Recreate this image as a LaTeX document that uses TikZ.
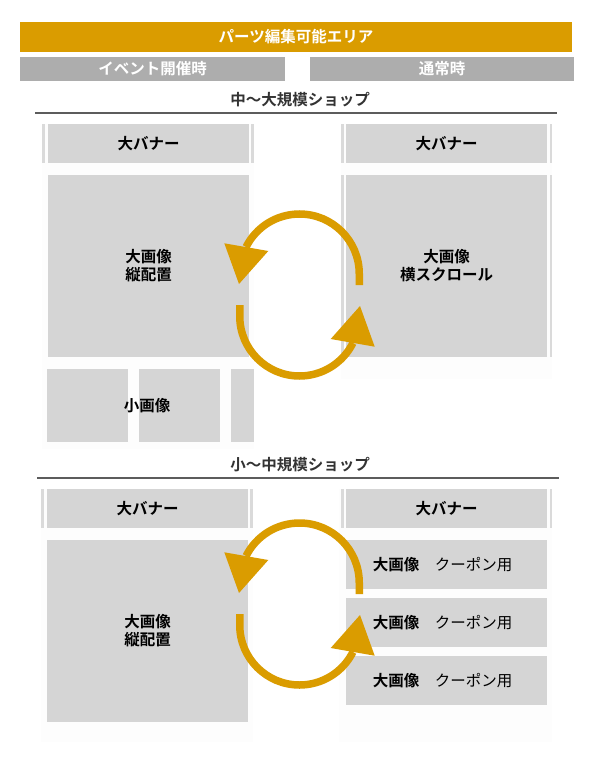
\documentclass[tikz,border=0pt]{standalone}
\usepackage{fontspec}
\setmainfont{Noto Sans CJK JP}[BoldFont={Noto Sans CJK JP Bold}]
\definecolor{partsorange}{RGB}{218,156,0}
\definecolor{bargray}{RGB}{173,173,173}
\definecolor{boxgray}{RGB}{213,213,213}
\definecolor{stripgray}{RGB}{218,218,218}
\definecolor{colbg}{RGB}{253,253,253}
\definecolor{headgray}{RGB}{51,51,51}
\newcommand{\diagfont}{\fontsize{15.5pt}{18pt}\selectfont}
\tikzset{
  box/.style={fill=boxgray, inner sep=0pt, font=\diagfont\bfseries, align=center},
  bar/.style={inner sep=0pt, text=white, font=\diagfont\bfseries},
  heading/.style={inner sep=0pt, text=headgray, font=\diagfont\bfseries},
  strip/.style={fill=stripgray},
  cyc/.style={draw=partsorange, line width=7.5pt},
}
\begin{document}
\begin{tikzpicture}[x=1pt,y=-1pt]
\useasboundingbox[fill=white] (0,0) rectangle (600,759);

\node[bar, fill=partsorange, minimum width=552pt, minimum height=30pt] (parts) at (296,37) {パーツ編集可能エリア};
\node[bar, fill=bargray, minimum width=265pt, minimum height=24pt] (event) at (152.5,69) {イベント開催時};
\node[bar, fill=bargray, minimum width=264pt, minimum height=24pt] (normal) at (442,69) {通常時};

\node[heading] (headA) at (300,100) {中〜大規模ショップ};
\draw[headgray!80, line width=1.5pt] (35,113) -- (557,113);
\node[heading] (headB) at (300,465) {小〜中規模ショップ};
\draw[headgray!80, line width=1.5pt] (37,478) -- (559,478);

\fill[colbg] (42,124) rectangle (254,449);
\fill[colbg] (341,124) rectangle (552,379);
\fill[colbg] (41,489) rectangle (253,742);
\fill[colbg] (339,489) rectangle (552,742);

\foreach \ya/\yb in {124/163,175/357,489/528} {
  \fill[strip] (341,\ya) rectangle (343.5,\yb);
  \fill[strip] (549.5,\ya) rectangle (552,\yb);
}
\fill[strip] (42,124) rectangle (44.5,163);
\fill[strip] (251,124) rectangle (254,163);
\fill[strip] (41,489) rectangle (43.5,528);
\fill[strip] (250,489) rectangle (253,528);

\node[box, minimum width=201pt, minimum height=39pt] (banA) at (148.5,143.5) {大バナー};
\node[box, minimum width=201pt, minimum height=182pt] (tallA) at (148.5,266) {大画像\\縦配置};
\node[box, minimum width=81pt, minimum height=73pt] (smallA) at (87.5,405.5) {};
\node[box, minimum width=81pt, minimum height=73pt] (smallB) at (179.5,405.5) {};
\node[box, minimum width=23pt, minimum height=73pt] (smallC) at (242.5,405.5) {};
\node[inner sep=0pt, font=\diagfont\bfseries] (smalltxt) at (147,406) {小画像};
\node[box, minimum width=201pt, minimum height=39pt] (banB) at (446.5,143.5) {大バナー};
\node[box, minimum width=201pt, minimum height=182pt] (wideB) at (446.5,266) {大画像\\横スクロール};

\node[box, minimum width=201pt, minimum height=39pt] (banC) at (147.5,508.5) {大バナー};
\node[box, minimum width=201pt, minimum height=182pt] (tallC) at (147.5,631) {大画像\\縦配置};
\node[box, minimum width=201pt, minimum height=39pt] (banD) at (446.5,508.5) {大バナー};
\foreach \y [count=\i] in {564.5,622.5,680.5}
  \node[box, minimum width=201pt, minimum height=49pt] (coupon\i) at (446.5,\y) {\hspace*{-8pt}大画像\mdseries　クーポン用};

\foreach \dy in {0,309} {
  \begin{scope}[shift={(0,\dy)}]
    \draw[cyc] (359.25,285) -- (359.25,273.75) arc[start angle=0, end angle=-153.4, radius=59.75];
    \fill[partsorange] (224.3,243.3) -- (268.3,251) -- (239,284) -- cycle;
    \draw[cyc] (239.75,305) -- (239.75,316.25) arc[start angle=180, end angle=26.6, radius=59.75];
    \fill[partsorange] (374.7,346.7) -- (330.7,339) -- (360,306) -- cycle;
  \end{scope}
}
\end{tikzpicture}
\end{document}
